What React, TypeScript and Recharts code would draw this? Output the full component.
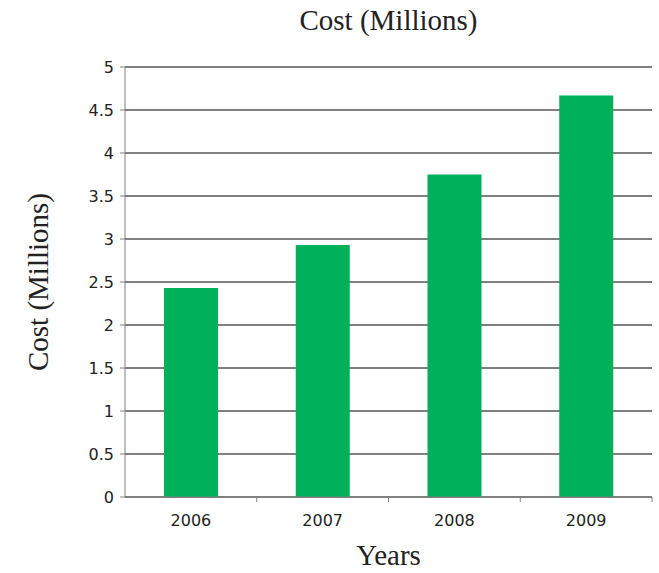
import { Bar, BarChart, CartesianGrid, Label, ReferenceLine, XAxis, YAxis } from 'recharts';

const years = ['2006', '2007', '2008', '2009'];
const costMillions = [2.43, 2.93, 3.75, 4.67];
const yTicks = [0, 0.5, 1, 1.5, 2, 2.5, 3, 3.5, 4, 4.5, 5];

const data = years.map((year, i) => ({ year, cost: costMillions[i] }));

const tickFont = { fontFamily: 'DejaVu Sans', fontSize: 16, fill: '#222' };
const titleFont = 'Liberation Serif';
const axisGray = '#808080';

// category ticks sit on band edges, so draw the tick mark at the right edge of each band
function YearTick(props: any) {
  const { x, y, payload } = props;
  const half = payload?.offset ?? 0;
  return (
    <g>
      <line x1={x + half} x2={x + half} y1={y - 8} y2={y - 3} stroke={axisGray} />
      <text x={x} y={y + 21} textAnchor="middle" {...tickFont}>
        {payload.value}
      </text>
    </g>
  );
}

export default function App() {
  return (
    <div style={{ position: 'absolute', left: 0, top: 0, width: 659, height: 573, background: '#fff' }}>
      <div
        style={{
          position: 'absolute',
          left: 125,
          width: 527,
          top: 4,
          textAlign: 'center',
          fontFamily: titleFont,
          fontSize: 29,
          color: '#222',
        }}
      >
        Cost (Millions)
      </div>
      <BarChart width={659} height={573} data={data} margin={{ top: 67, right: 7, bottom: 0, left: 0 }}>
        <CartesianGrid vertical={false} stroke="#000" />
        <XAxis
          dataKey="year"
          height={76}
          axisLine={{ stroke: axisGray }}
          tickLine={false}
          tick={<YearTick />}
        >
          <Label value="Years" position="insideBottom" offset={8} fontFamily={titleFont} fontSize={29} fill="#222" />
        </XAxis>
        <YAxis
          width={125}
          domain={[0, 5]}
          ticks={yTicks}
          interval={0}
          axisLine={{ stroke: axisGray }}
          tickLine={{ stroke: axisGray }}
          tickSize={5}
          tickMargin={6}
          tick={tickFont}
        >
          <Label
            value="Cost (Millions)"
            angle={-90}
            position="insideLeft"
            offset={38}
            style={{ textAnchor: 'middle' }}
            fontFamily={titleFont}
            fontSize={29}
            fill="#222"
          />
        </YAxis>
        <YAxis yAxisId="frame" orientation="right" width={0} tick={false} axisLine={{ stroke: axisGray }} domain={[0, 5]} />
        <ReferenceLine y={5} stroke={axisGray} />
        <Bar dataKey="cost" fill="#00b159" barSize={54} isAnimationActive={false} />
      </BarChart>
    </div>
  );
}
